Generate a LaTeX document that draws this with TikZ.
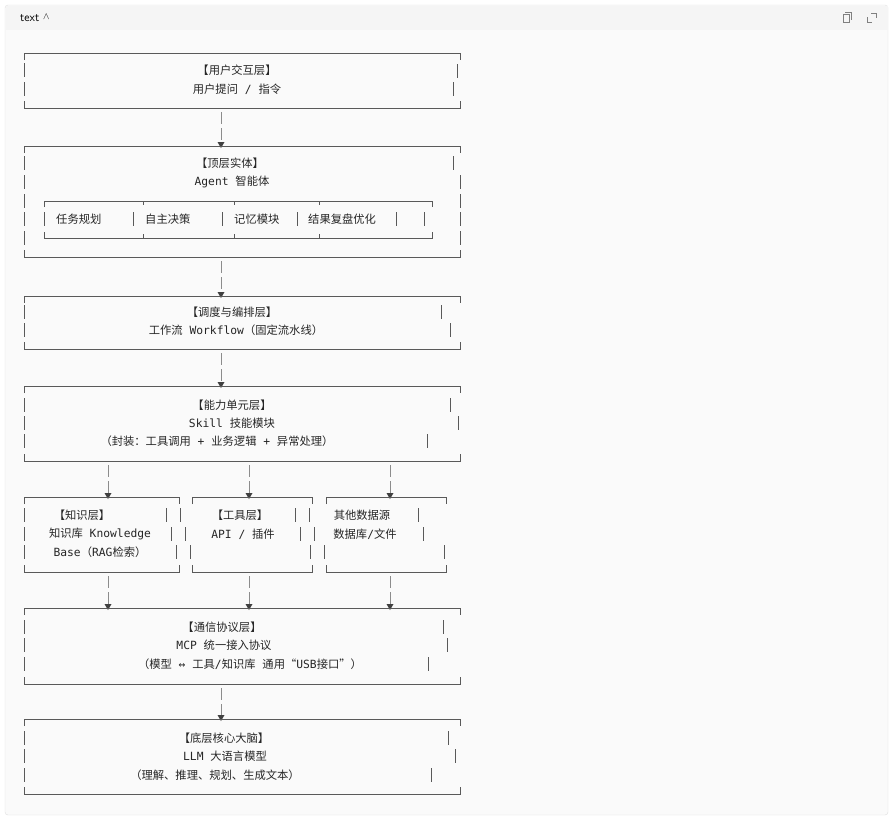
\documentclass[tikz,border=0pt]{standalone}
\usepackage{fontspec}
\setmainfont{Noto Sans CJK SC}
\newfontfamily\mono{DejaVu Sans Mono}
\newcommand\msp{{\mono\ }}
\begin{document}
\begin{tikzpicture}[x=1pt,y=-1pt,
  ln/.style={draw=black!65,line width=0.8pt},
  t/.style={font=\fontsize{11.3}{13}\selectfont,text=black!85,inner sep=0pt,anchor=center},
  tl/.style={t,anchor=west},
  conn/.style={draw=black!45,line width=0.9pt,dash pattern=on 12pt off 4pt}]
\useasboundingbox (0,0) rectangle (893,820);
\fill[white] (0,0) rectangle (893,820);
\draw[black!12,fill=black!2,rounded corners=3pt] (5,5) rectangle (888,815);
\fill[black!4] (5.5,5.5) rectangle (887.5,30);
\node[anchor=west,font=\sffamily\fontsize{12}{14}\selectfont,inner sep=0pt] (hdr) at (20,18) {text \raisebox{0.3ex}{\scalebox{0.8}{$\wedge$}}};
\draw[black!50,line width=0.6pt] (843,14) rectangle (849,22) (845,12)--(851,12)--(851,20);
\draw[black!50,line width=0.6pt] (867,17)--(867,22)--(872,22) (871,13)--(876,13)--(876,18);
\newcommand\lay[2]{%
  \draw[ln] (24,#1+7)--(24,#1)--(460,#1)--(460,#1+7);
  \draw[ln] (24,#2-7)--(24,#2)--(460,#2)--(460,#2-7);}
\newcommand\vb[2]{\draw[ln] (#1,#2-7)--(#1,#2+7);}
\newcommand\arr[3]{%
  \draw[conn] (#1,#2+4)--(#1,#3-4);
  \fill[black!75] (#1-3.5,#3-4)--(#1+3.5,#3-4)--(#1,#3+2)--cycle;}
% Box 1
\lay{53}{108}
\vb{24}{70}\vb{24}{89}\vb{457}{71}\vb{453}{89}
\node[t] (b1a) at (237,70) {【用户交互层】};
\node[t] (b1b) at (237,89) {用户提问\msp{}{\mono/}\msp{}指令};
\arr{221}{108}{146}
% Box 2
\lay{146}{257}
\foreach \y in {163,182,201,219,238} {\vb{24}{\y}}
\vb{453}{163}\vb{460}{182}\vb{460}{201}\vb{460}{219}\vb{460}{238}
\node[t] (b2a) at (230,163) {【顶层实体】};
\node[t] (b2b) at (232,182) {{\mono Agent}\msp{}智能体};
\draw[ln] (44,207)--(44,201)--(432,201)--(432,207);
\draw[ln] (44,232)--(44,238)--(432,238)--(432,232);
\foreach \x in {143,234,319}{\draw[ln] (\x,201)--(\x,205) (\x,238)--(\x,234);}
\foreach \x in {44,133,222,297,396,424}{\vb{\x}{219}}
\node[tl] (m1) at (56,219) {任务规划};
\node[tl] (m2) at (145,219) {自主决策};
\node[tl] (m3) at (234,219) {记忆模块};
\node[tl] (m4) at (308,219) {结果复盘优化};
\arr{221}{257}{296}
% Box 3
\lay{296}{349}
\vb{24}{312}\vb{24}{330}\vb{441}{312}\vb{450}{330}
\node[t] (b3a) at (232,312) {【调度与编排层】};
\node[t] (b3b) at (236,330) {工作流\msp{}{\mono Workflow}（固定流水线）};
\arr{221}{349}{386}
% Box 4
\lay{386}{461}
\vb{24}{405}\vb{24}{423}\vb{24}{441}\vb{450}{405}\vb{458}{423}\vb{427}{441}
\node[t] (b4a) at (232,405) {【能力单元层】};
\node[t] (b4b) at (232,423) {{\mono Skill}\msp{}技能模块};
\node[t] (b4c) at (217,441) {（封装：工具调用\msp{}{\mono+}\msp{}业务逻辑\msp{}{\mono+}\msp{}异常处理）};
\arr{108}{461}{497}\arr{249}{461}{497}\arr{390}{461}{497}
% sub boxes
\foreach \a/\b in {24/179,192/312,326/446}{
  \draw[ln] (\a,504)--(\a,497)--(\b,497)--(\b,504);
  \draw[ln] (\a,565)--(\a,572)--(\b,572)--(\b,565);}
\foreach \x in {24,166,180,295,309,418}{\vb{\x}{515}}
\foreach \x in {24,171,185,300,314,423}{\vb{\x}{534}}
\foreach \x in {24,176,190,310,324,444}{\vb{\x}{552}}
\node[t] (k1) at (82,515) {【知识层】};
\node[t] (k2) at (100,534) {知识库\msp{}{\mono Knowledge}};
\node[t] (k3) at (100,552) {{\mono Base}（{\mono RAG}检索）};
\node[t] (g1) at (240,515) {【工具层】};
\node[t] (g2) at (243,534) {{\mono API / }插件};
\node[t] (o1) at (362,515) {其他数据源};
\node[t] (o2) at (365,534) {数据库{\mono/}文件};
\arr{108}{572}{608}\arr{249}{572}{608}\arr{390}{572}{608}
% Box 6
\lay{608}{684}
\vb{24}{627}\vb{24}{645}\vb{24}{664}\vb{443}{627}\vb{447}{645}\vb{428}{664}
\node[t] (b6a) at (222,627) {【通信协议层】};
\node[t] (b6b) at (224,645) {{\mono MCP}\msp{}统一接入协议};
\node[t] (b6c) at (250,664) {（模型\msp{}{\mono ↔}\msp{}工具{\mono/}知识库\msp{}通用“{\mono USB}接口”）};
\arr{221}{684}{719}
% Box 7
\lay{719}{794}
\vb{24}{738}\vb{24}{756}\vb{24}{775}\vb{448}{738}\vb{455}{756}\vb{431}{775}
\node[t] (b7a) at (224,738) {【底层核心大脑】};
\node[t] (b7b) at (225,756) {{\mono LLM}\msp{}大语言模型};
\node[t] (b7c) at (215,775) {（理解、推理、规划、生成文本）};
\end{tikzpicture}
\end{document}
